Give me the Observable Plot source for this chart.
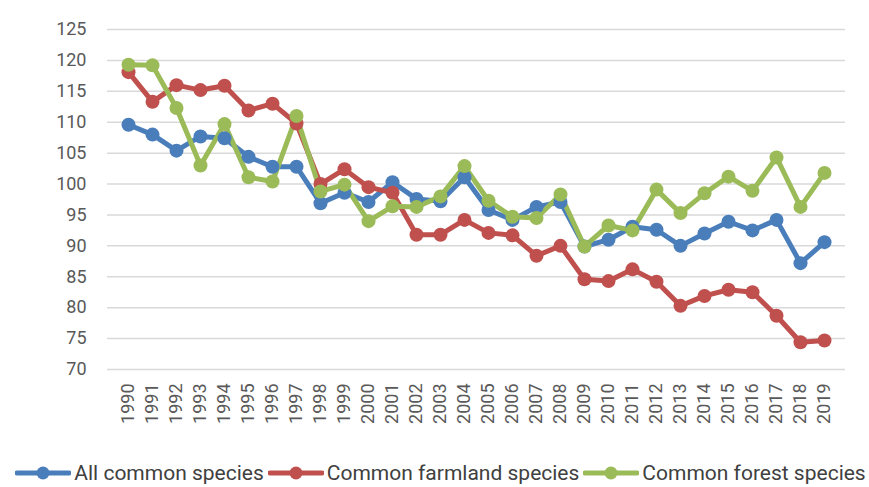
<!DOCTYPE html>
<html>
<head>
<meta charset="utf-8">
<script src="https://cdn.jsdelivr.net/npm/d3@7"></script>
<script src="https://cdn.jsdelivr.net/npm/@observablehq/plot@0.6"></script>
<style>
  html, body { margin: 0; padding: 0; background: #fff; }
  body { width: 869px; height: 487px; overflow: hidden; font-family: "Roboto", sans-serif; }
  #legend { display: flex; justify-content: center; align-items: center; gap: 4px; margin-top: 6px; margin-left: 12px; color: #404040; font-size: 21px; }
  .item { display: flex; align-items: center; gap: 3px; }
</style>
</head>
<body>
<div id="chart"></div>
<div id="legend"></div>
<script>
const years = d3.range(1990, 2020);
const seriesNames = ["All common species", "Common farmland species", "Common forest species"];
const seriesColors = ["#4a7ebb", "#c0504d", "#9bbb59"];
const allCommon = [109.6, 108.0, 105.4, 107.7, 107.4, 104.4, 102.8, 102.8, 96.9, 98.6,
                   97.1, 100.3, 97.6, 97.2, 101.1, 95.8, 94.2, 96.3, 97.1, 89.9,
                   91.0, 93.1, 92.6, 90.0, 92.0, 93.9, 92.5, 94.2, 87.2, 90.6];
const farmland = [118.1, 113.3, 116.0, 115.2, 115.9, 111.9, 113.0, 109.8, 100.0, 102.4,
                  99.5, 98.6, 91.8, 91.8, 94.2, 92.1, 91.7, 88.4, 90.0, 84.6,
                  84.3, 86.2, 84.2, 80.3, 81.9, 82.9, 82.5, 78.7, 74.4, 74.7];
const forest = [119.3, 119.2, 112.3, 103.0, 109.7, 101.1, 100.4, 111.0, 98.8, 99.9,
                94.0, 96.4, 96.3, 98.0, 102.9, 97.3, 94.7, 94.5, 98.3, 89.9,
                93.3, 92.5, 99.1, 95.3, 98.5, 101.2, 98.9, 104.3, 96.3, 101.8];
const yTicks = d3.range(70, 126, 5);

const seriesValues = [allCommon, farmland, forest];
const data = [];
seriesNames.forEach((name, s) => {
  years.forEach((yr, i) => data.push({year: yr, value: seriesValues[s][i], series: name}));
});

const plot = Plot.plot({
  width: 869,
  height: 455,
  marginLeft: 107,
  marginRight: 24,
  marginTop: 29,
  marginBottom: 86,
  style: { fontFamily: '"Roboto", sans-serif', color: "#595959", background: "#fff" },
  x: { type: "point", domain: years, padding: 0.5, label: null },
  y: { domain: [70, 125], label: null },
  color: { domain: seriesNames, range: seriesColors },
  marks: [
    Plot.gridY(yTicks, { stroke: "#d9d9d9", strokeOpacity: 1, strokeWidth: 1.5 }),
    Plot.axisY(yTicks, { tickSize: 0, tickPadding: 21, fontSize: 18, fill: "#595959", label: null }),
    Plot.axisX(years, { tickSize: 0, tickPadding: 14, tickRotate: -90, fontSize: 18, fill: "#595959", label: null, tickFormat: d => String(d) }),
    Plot.line(data, { x: "year", y: "value", z: "series", stroke: "series", strokeWidth: 5, curve: "linear" }),
    Plot.dot(data, { x: "year", y: "value", fill: "series", r: 7 })
  ]
});
document.getElementById("chart").appendChild(plot);

const legend = document.getElementById("legend");
seriesNames.forEach((name, i) => {
  const item = document.createElement("div");
  item.className = "item";
  item.innerHTML = `<svg width="56" height="16"><line x1="2" y1="8" x2="54" y2="8" stroke="${seriesColors[i]}" stroke-width="5" stroke-linecap="round"/><circle cx="28" cy="8" r="6.5" fill="${seriesColors[i]}"/></svg><span>${name}</span>`;
  legend.appendChild(item);
});
</script>
</body>
</html>
